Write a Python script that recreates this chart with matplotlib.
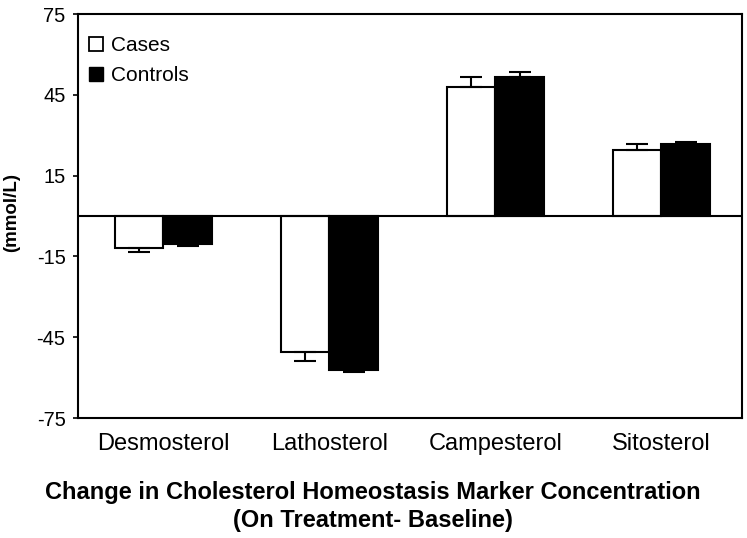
import matplotlib
matplotlib.use("Agg")
import matplotlib.pyplot as plt
import numpy as np
from matplotlib.lines import Line2D

plt.rcParams['font.family'] = ['Liberation Sans', 'DejaVu Sans']

categories = ["Desmosterol", "Lathosterol", "Campesterol", "Sitosterol"]
cases = [-12.0, -50.5, 48.0, 24.4]
cases_err = [1.2, 3.3, 3.5, 2.3]
controls = [-10.5, -57.0, 51.6, 26.9]
controls_err = [0.8, 1.1, 2.0, 0.6]
yticks = [75, 45, 15, -15, -45, -75]

W, H = 747, 538
fig = plt.figure(figsize=(W/100, H/100), dpi=100)
ax = fig.add_axes([78/W, 1-418/H, (742-78)/W, (418-14)/H])

x = np.arange(len(categories))
bw = 0.295
ax.bar(x - bw/2, cases, bw, color='white', edgecolor='black', linewidth=1.5, zorder=2)
ax.bar(x + bw/2, controls, bw, color='black', edgecolor='black', linewidth=1.5, zorder=2)

def one_sided(vals, errs):
    lo = [e if v < 0 else 0 for v, e in zip(vals, errs)]
    hi = [e if v >= 0 else 0 for v, e in zip(vals, errs)]
    return [lo, hi]

ax.errorbar(x - bw/2, cases, yerr=one_sided(cases, cases_err), fmt='none',
            ecolor='black', elinewidth=1.5, capsize=8, capthick=1.5, zorder=3)
ax.errorbar(x + bw/2, controls, yerr=one_sided(controls, controls_err), fmt='none',
            ecolor='black', elinewidth=1.5, capsize=8, capthick=1.5, zorder=3)

ax.axhline(0, color='black', linewidth=1.5, zorder=4)
ax.set_xlim(-0.515, 3.485)
ax.set_ylim(-75, 75)
ax.set_yticks(yticks)
ax.set_yticklabels([str(t) for t in yticks], fontsize=14.5)
ax.tick_params(axis='y', direction='out', length=3.5, width=1.2, pad=5.5)
ax.set_xticks(x)
ax.set_xticklabels(categories, fontsize=17)
ax.tick_params(axis='x', length=0, pad=11)
for s in ax.spines.values():
    s.set_linewidth(1.5)

handles = [Line2D([], [], marker='s', linestyle='none', markersize=9.5,
                  markerfacecolor='white', markeredgecolor='black', markeredgewidth=1.3),
           Line2D([], [], marker='s', linestyle='none', markersize=9.5,
                  markerfacecolor='black', markeredgecolor='black')]
ax.legend(handles, ["Cases", "Controls"], loc='upper left', frameon=False,
          fontsize=15, handletextpad=0.25, labelspacing=0.55,
          bbox_to_anchor=(-0.011, 0.982), borderaxespad=0.3, handlelength=1.0)

fig.text(12/W, 1-213/H, "(mmol/L)", rotation=90, ha='center', va='center',
         fontsize=13.5, fontweight='bold')
fig.text(373/W, 1-493/H, "Change in Cholesterol Homeostasis Marker Concentration",
         ha='center', va='center', fontsize=17, fontweight='bold')
fig.text(373/W, 1-521/H, "(On Treatment- Baseline)",
         ha='center', va='center', fontsize=17, fontweight='bold')

fig.savefig("out.png", dpi=100)
